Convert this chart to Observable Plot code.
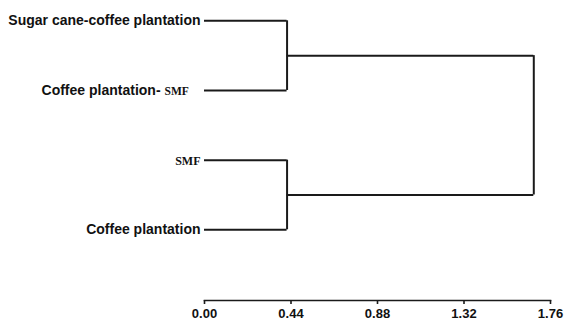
<!DOCTYPE html>
<html>
<head>
<meta charset="utf-8">
<script src="https://cdn.jsdelivr.net/npm/d3@7"></script>
<script src="https://cdn.jsdelivr.net/npm/@observablehq/plot@0.6"></script>
<style>
  html, body { margin: 0; padding: 0; background: #fff; }
  #chart svg { display: block; }
</style>
</head>
<body>
<div id="chart"></div>
<script>
// Leaves, top to bottom
const leaves = ["Sugar cane-coffee plantation", "Coffee plantation- SMF", "SMF", "Coffee plantation"];
// Merges: [childA, childB, height]; leaves are 0..3, merges are numbered 4..
const merges = [
  [0, 1, 0.42],
  [2, 3, 0.42],
  [4, 5, 1.675]
];
const ticks = [0.00, 0.44, 0.88, 1.32, 1.76];

// Build nodes
const nodes = leaves.map((name, i) => ({name, h: 0, y: i}));
merges.forEach(([a, b, h]) => nodes.push({a, b, h, y: (nodes[a].y + nodes[b].y) / 2}));

const hSegs = [];
const vSegs = [];
merges.forEach(([a, b, h]) => {
  for (const c of [a, b]) hSegs.push({x1: nodes[c].h, x2: h, y: nodes[c].y});
  vSegs.push({x: h, y1: nodes[a].y, y2: nodes[b].y});
});
const leafData = leaves.map((name, i) => ({name, y: i}));

const stroke = "#1a1a1a";
const sans = "Liberation Sans, Arial, sans-serif";
const plot = Plot.plot({
  width: 568,
  height: 320,
  marginLeft: 204,
  marginRight: 18,
  marginTop: 10,
  marginBottom: 20,
  style: {background: "#fff", color: "#111"},
  x: {domain: [0, 1.76], label: null},
  y: {domain: [0, 3], range: [20.3, 229.3], axis: null},
  marks: [
    Plot.frame({anchor: "bottom", stroke, strokeWidth: 1.6}),
    Plot.axisX({ticks, tickFormat: d3.format(".2f"), label: null, tickSize: 4, tickPadding: 4,
      stroke, strokeWidth: 1.6, fill: "#111", fontSize: 13, fontWeight: "bold", fontFamily: sans}),
    Plot.ruleY(hSegs, {x1: "x1", x2: "x2", y: "y", stroke, strokeWidth: 2}),
    Plot.ruleX(vSegs, {x: "x", y1: "y1", y2: "y2", stroke, strokeWidth: 2}),
    Plot.text(leafData, {x: 0, y: "y", text: "name", textAnchor: "end", dx: -4, fill: "#111",
      fontFamily: sans, fontWeight: "bold", fontSize: 14, className: "leaflabel"})
  ]
});

// Render "SMF" in a serif face, as in the reference
d3.select(plot).selectAll(".leaflabel text").each(function() {
  const t = d3.select(this);
  const s = t.text();
  const i = s.indexOf("SMF");
  if (i < 0) return;
  const pre = s.slice(0, i);
  t.text(null);
  if (pre) {
    t.append("tspan").text(pre.trimEnd());
    t.append("tspan").attr("dx", 4).text("SMF")
      .style("font-family", "Liberation Serif, Times New Roman, serif").style("font-size", "11.5px");
    t.append("tspan").text("\u00a0\u00a0\u00a0");
  } else {
    t.append("tspan").text("SMF")
      .style("font-family", "Liberation Serif, Times New Roman, serif").style("font-size", "12px");
  }
});

document.getElementById("chart").appendChild(plot);
</script>
</body>
</html>
